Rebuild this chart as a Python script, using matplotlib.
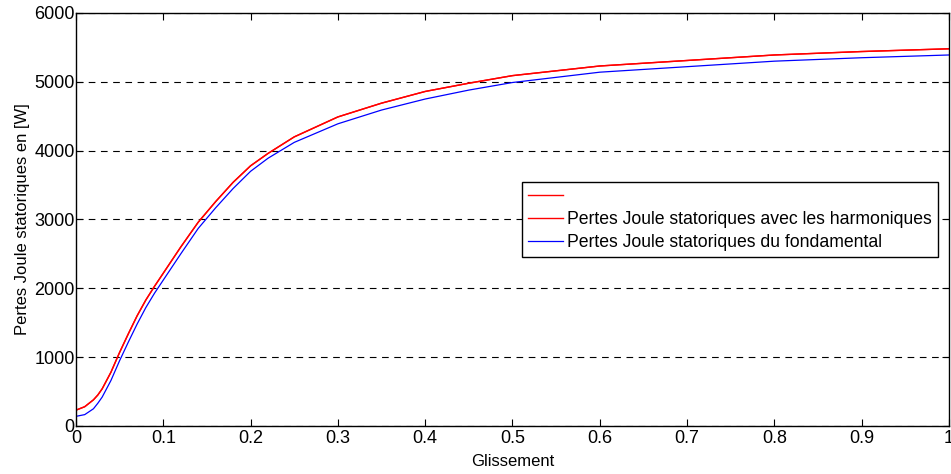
import numpy as np
import matplotlib.pyplot as plt

plt.rcParams['font.family'] = ['Liberation Sans', 'DejaVu Sans']

# glissement values and stator Joule losses
s = [0, 0.01, 0.02, 0.025, 0.03, 0.04, 0.05, 0.06, 0.07, 0.08, 0.09, 0.1, 0.12,
     0.14, 0.16, 0.18, 0.2, 0.22, 0.25, 0.3, 0.35, 0.4, 0.45, 0.5, 0.6, 0.7, 0.8,
     0.9, 1.0]
p_harm = [230, 280, 380, 450, 540, 780, 1070, 1340, 1600, 1830, 2030, 2220, 2600,
          2960, 3260, 3540, 3780, 3960, 4200, 4490, 4690, 4860, 4980, 5090, 5230,
          5310, 5390, 5440, 5480]
p_fond = [140, 165, 250, 330, 420, 660, 950, 1220, 1480, 1720, 1930, 2120, 2500,
          2870, 3170, 3450, 3700, 3890, 4120, 4390, 4590, 4750, 4880, 4990, 5140,
          5220, 5300, 5350, 5390]

fig = plt.figure(figsize=(9.51, 4.74), dpi=100)
ax = fig.add_axes([0.0799, 0.1013, 0.918, 0.8713])

l0, = ax.plot(s, p_harm, color='red', lw=1.0)
l1, = ax.plot(s, p_harm, color='red', lw=1.0)
l2, = ax.plot(s, p_fond, color='blue', lw=0.9)

ax.set_xlim(0, 1)
ax.set_ylim(0, 6000)
ax.set_xticks(np.arange(0, 1.01, 0.1))
ax.set_xticklabels(['0', '0.1', '0.2', '0.3', '0.4', '0.5', '0.6', '0.7', '0.8', '0.9', '1'])
ax.set_yticks(np.arange(0, 6001, 1000))
ax.tick_params(direction='in', top=True, right=True, labelsize=13, length=5)
ax.tick_params(axis='x', pad=3)
ax.tick_params(axis='y', pad=1)
ax.yaxis.grid(True, color='black', linestyle=(0, (6, 5)), lw=0.8)
for sp in ax.spines.values():
    sp.set_linewidth(1.0)

ax.set_xlabel('Glissement', fontsize=12, labelpad=5)
ax.set_ylabel('Pertes Joule statoriques en [W]', fontsize=12, labelpad=3)

leg = ax.legend([l0, l1, l2],
                [' ', 'Pertes Joule statoriques avec les harmoniques',
                 'Pertes Joule statoriques du fondamental'],
                loc='upper left', bbox_to_anchor=(0.511, 0.59), fontsize=12.7,
                fancybox=False, framealpha=1, edgecolor='black',
                handlelength=1.95, handletextpad=0.25, labelspacing=0.32,
                borderpad=0.35, borderaxespad=0)
leg.get_frame().set_linewidth(1.0)

fig.savefig('out.png', dpi=100)
